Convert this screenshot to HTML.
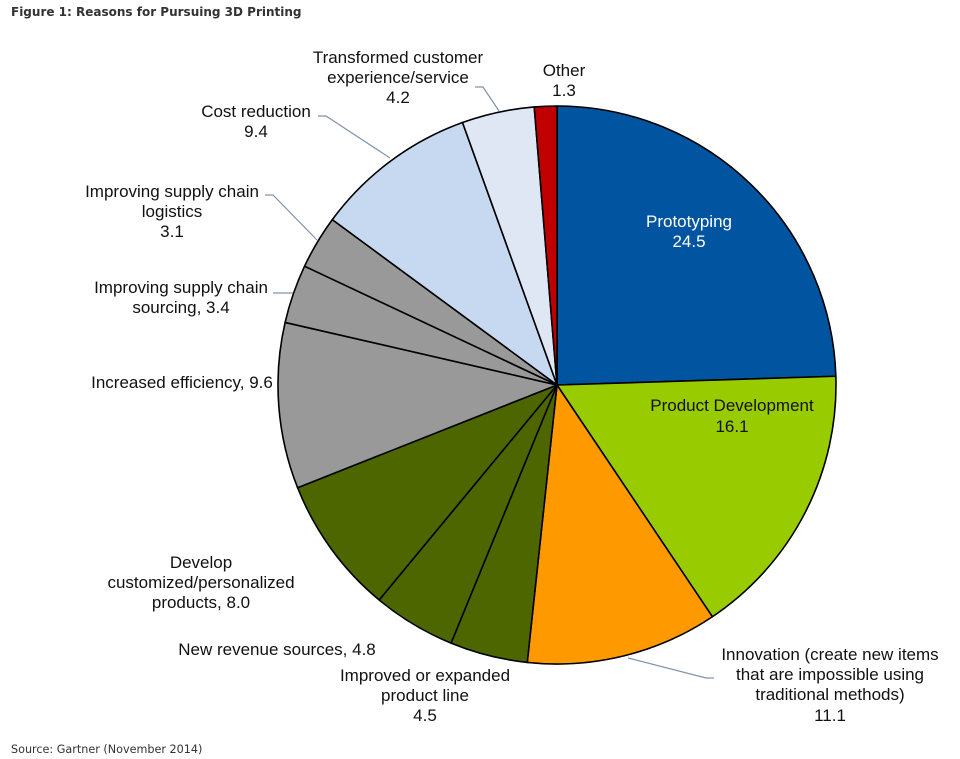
<!DOCTYPE html>
<html>
<head>
<meta charset="utf-8">
<style>
  html,body{margin:0;padding:0;background:#fff;}
  body{width:960px;height:759px;overflow:hidden;}
  svg{display:block;}
  .t{font-family:"Liberation Sans",Arial,sans-serif;font-size:17px;fill:#111;}
</style>
</head>
<body>
<svg width="960" height="759" viewBox="0 0 960 759" xmlns="http://www.w3.org/2000/svg">
  <text x="11" y="16" font-family="'DejaVu Sans',Verdana,sans-serif" font-size="12" font-weight="bold" fill="#333">Figure 1: Reasons for Pursuing 3D Printing</text>

  <g stroke="#000" stroke-width="1.6" stroke-linejoin="round">
    <path d="M557,385 L557,106 A279,279 0 0 1 835.86,376.24 Z" fill="#0054a0"/>
    <path d="M557,385 L835.86,376.24 A279,279 0 0 1 712.38,616.74 Z" fill="#99cc00"/>
    <path d="M557,385 L712.38,616.74 A279,279 0 0 1 527.26,662.41 Z" fill="#ff9900"/>
    <path d="M557,385 L527.26,662.41 A279,279 0 0 1 451.04,643.10 Z" fill="#4e6600"/>
    <path d="M557,385 L451.04,643.10 A279,279 0 0 1 379.17,599.97 Z" fill="#4e6600"/>
    <path d="M557,385 L379.17,599.97 A279,279 0 0 1 297.59,487.70 Z" fill="#4e6600"/>
    <path d="M557,385 L297.59,487.70 A279,279 0 0 1 285.11,322.42 Z" fill="#999999"/>
    <path d="M557,385 L285.11,322.42 A279,279 0 0 1 304.56,266.20 Z" fill="#999999"/>
    <path d="M557,385 L304.56,266.20 A279,279 0 0 1 332.32,219.63 Z" fill="#999999"/>
    <path d="M557,385 L332.32,219.63 A279,279 0 0 1 462.50,122.49 Z" fill="#c6d9f1"/>
    <path d="M557,385 L462.50,122.49 A279,279 0 0 1 534.23,106.92 Z" fill="#dfe7f4"/>
    <path d="M557,385 L534.23,106.92 A279,279 0 0 1 557,106 Z" fill="#c00000"/>
  </g>

  <g stroke="#7f93ab" stroke-width="1.2" fill="none">
    <polyline points="318,116 326,116 390,158"/>
    <polyline points="475,87 483,87 499,111"/>
    <polyline points="265,195 273,195 317,240"/>
    <polyline points="273,293 293,293"/>
    <polyline points="628,658 706,678 714,678"/>
  </g>

  <g class="t" text-anchor="middle">
    <text x="689" y="227" style="fill:#fff">Prototyping</text>
    <text x="689" y="247" style="fill:#fff">24.5</text>

    <text x="732" y="411">Product Development</text>
    <text x="732" y="432">16.1</text>

    <text x="830" y="660">Innovation (create new items</text>
    <text x="830" y="680">that are impossible using</text>
    <text x="830" y="700">traditional methods)</text>
    <text x="830" y="721">11.1</text>

    <text x="425" y="681">Improved or expanded</text>
    <text x="425" y="701">product line</text>
    <text x="425" y="721">4.5</text>

    <text x="277" y="655">New revenue sources, 4.8</text>

    <text x="201" y="568">Develop</text>
    <text x="201" y="588">customized/personalized</text>
    <text x="201" y="608">products, 8.0</text>

    <text x="182" y="388">Increased efficiency, 9.6</text>

    <text x="181" y="293">Improving supply chain</text>
    <text x="181" y="313">sourcing, 3.4</text>

    <text x="172" y="197">Improving supply chain</text>
    <text x="172" y="217">logistics</text>
    <text x="172" y="237">3.1</text>

    <text x="256" y="117">Cost reduction</text>
    <text x="256" y="137">9.4</text>

    <text x="398" y="63">Transformed customer</text>
    <text x="398" y="83">experience/service</text>
    <text x="398" y="103">4.2</text>

    <text x="564" y="76">Other</text>
    <text x="564" y="96">1.3</text>
  </g>

  <text x="11" y="753" font-family="'DejaVu Sans',Verdana,sans-serif" font-size="11.2" fill="#333">Source: Gartner (November 2014)</text>
</svg>
</body>
</html>
